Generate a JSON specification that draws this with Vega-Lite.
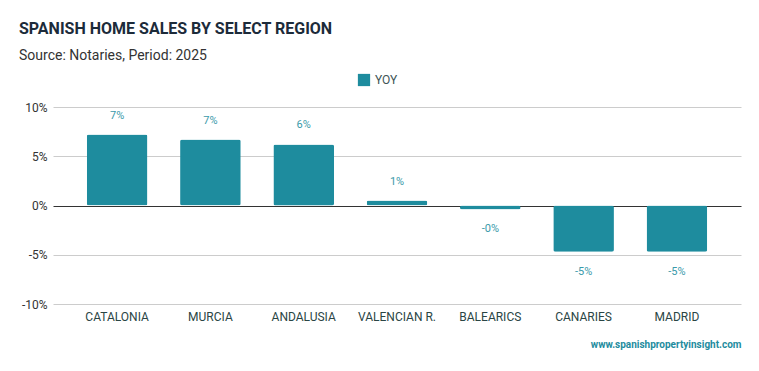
{
  "$schema": "https://vega.github.io/schema/vega-lite/v6.json",
  "autosize": {"type": "none"},
  "width": 688,
  "height": 197,
  "padding": {"left": 53, "top": 107, "right": 18, "bottom": 67},
  "background": "white",
  "config": {"font": "Roboto", "view": {"stroke": null}},
  "title": {
    "text": "SPANISH HOME SALES BY SELECT REGION",
    "subtitle": "Source: Notaries, Period: 2025",
    "anchor": "start",
    "frame": "group",
    "dx": -34,
    "offset": 10,
    "font": "Roboto",
    "fontSize": 16,
    "fontWeight": "bold",
    "color": "#1c2b3a",
    "subtitleFont": "Roboto",
    "subtitleFontSize": 14,
    "subtitleColor": "#333333",
    "subtitlePadding": 12
  },
  "data": {
    "values": [
      {"region": "CATALONIA", "yoy": 0.072, "series": "YOY"},
      {"region": "MURCIA", "yoy": 0.067, "series": "YOY"},
      {"region": "ANDALUSIA", "yoy": 0.062, "series": "YOY"},
      {"region": "VALENCIAN R.", "yoy": 0.005, "series": "YOY"},
      {"region": "BALEARICS", "yoy": -0.004, "series": "YOY"},
      {"region": "CANARIES", "yoy": -0.047, "series": "YOY"},
      {"region": "MADRID", "yoy": -0.047, "series": "YOY"}
    ]
  },
  "encoding": {
    "x": {
      "field": "region",
      "type": "nominal",
      "sort": null,
      "scale": {"paddingInner": 0.35, "paddingOuter": 0.362},
      "axis": {
        "title": "www.spanishpropertyinsight.com",
        "titleAnchor": "end",
        "titleAlign": "right",
        "titleColor": "#1e8c9e",
        "titleFontSize": 10,
        "titleFontWeight": "bold",
        "titlePadding": 17,
        "labelAngle": 0,
        "labelFontSize": 12,
        "labelColor": "#2a4544",
        "labelPadding": 7,
        "domain": false,
        "ticks": false
      }
    }
  },
  "layer": [
    {
      "mark": {"type": "bar", "color": "#1e8c9e", "cornerRadius": 2},
      "encoding": {
        "y": {
          "field": "yoy",
          "type": "quantitative",
          "scale": {"domain": [-0.1, 0.1]},
          "axis": {
            "title": null,
            "values": [-0.1, -0.05, 0, 0.05, 0.1],
            "labelExpr": "(datum.value < 0 ? '-' : '') + format(abs(datum.value), '.0%')",
            "labelFontSize": 12,
            "labelColor": "#333333",
            "labelPadding": 6,
            "domain": false,
            "ticks": false,
            "gridColor": {"condition": {"test": "datum.value === 0", "value": "#333333"}, "value": "#cccccc"}
          }
        },
        "color": {
          "field": "series",
          "type": "nominal",
          "scale": {"range": ["#1e8c9e"]},
          "legend": {
            "title": null,
            "orient": "none",
            "legendX": 304,
            "legendY": -34,
            "symbolType": "square",
            "symbolSize": 150,
            "labelFontSize": 12,
            "labelColor": "#3d5555"
          }
        }
      }
    },
    {
      "transform": [{"filter": "datum.yoy >= 0"}],
      "mark": {"type": "text", "dy": -19, "fontSize": 11, "color": "#3a9aaa"},
      "encoding": {
        "y": {"field": "yoy", "type": "quantitative"},
        "text": {"field": "yoy", "type": "quantitative", "format": ".0%"}
      }
    },
    {
      "transform": [{"filter": "datum.yoy < 0"}],
      "mark": {"type": "text", "dy": 20, "fontSize": 11, "color": "#3a9aaa", "text": {"expr": "'-' + format(abs(datum.yoy), '.0%')"}},
      "encoding": {
        "y": {"field": "yoy", "type": "quantitative"}
      }
    }
  ]
}
